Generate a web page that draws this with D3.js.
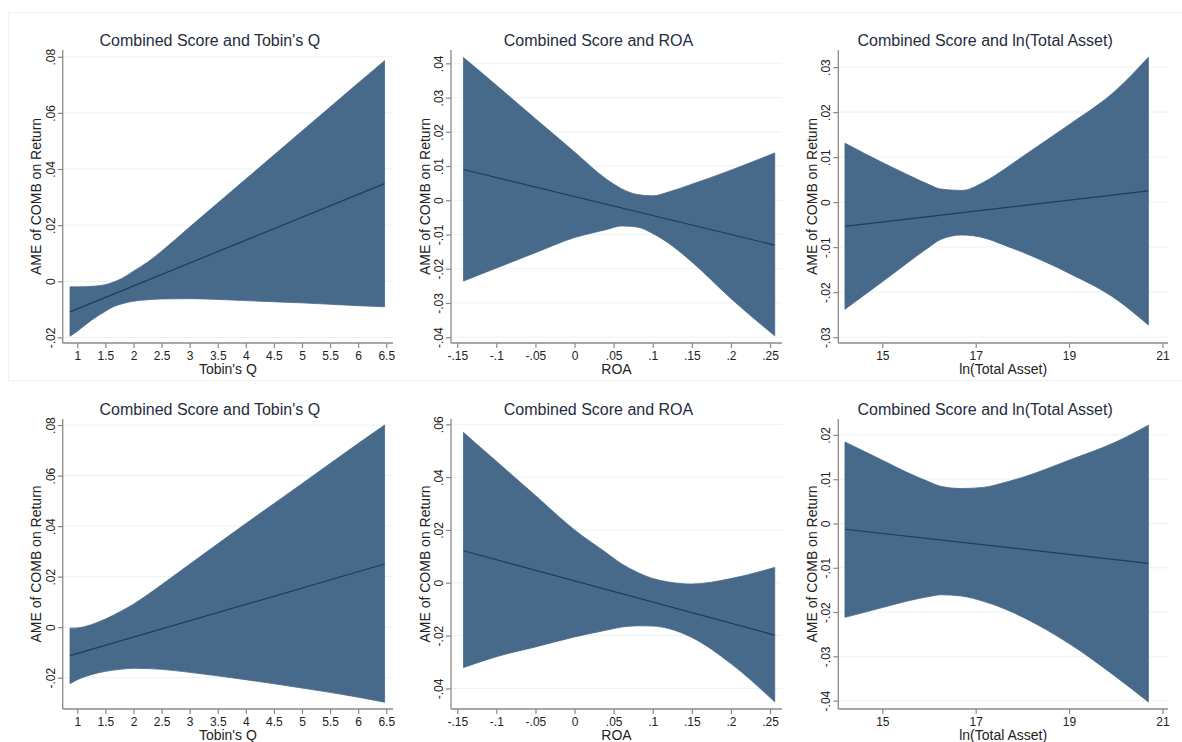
<!DOCTYPE html>
<html>
<head>
<meta charset="utf-8">
<script src="https://cdn.jsdelivr.net/npm/d3@7"></script>
<style>
  html, body { margin: 0; padding: 0; background: #ffffff; }
  svg { display: block; font-family: "Liberation Sans", Arial, sans-serif; }
</style>
</head>
<body>
<svg id="chart" width="1182" height="742"></svg>
<script>
// ---- Average marginal effect of COMB on Return, with confidence bands ----

// Tobin's Q panels
const tqX      = [0.87, 1.0, 1.25, 1.5, 1.65, 1.8, 2.0, 2.25, 2.5, 3.0, 4.0, 5.0, 6.0, 6.47];
const tqUpperA = [-0.0020, -0.0020, -0.0018, -0.0012, -0.0003, 0.0011, 0.0036, 0.0068, 0.0107, 0.0193, 0.0364, 0.0535, 0.0706, 0.0786];
const tqLowerA = [-0.0196, -0.0178, -0.0139, -0.0107, -0.0090, -0.0080, -0.0071, -0.0066, -0.0063, -0.0062, -0.0069, -0.0077, -0.0087, -0.0091];
const tqCenterXA = [0.87, 6.47];
const tqCenterA  = [-0.0109, 0.0348];

const tqUpperB = [-0.0004, -0.0003, 0.0010, 0.0032, 0.0048, 0.0066, 0.0091, 0.0128, 0.0168, 0.0249, 0.0410, 0.0568, 0.0727, 0.0800];
const tqLowerB = [-0.0224, -0.0208, -0.0188, -0.0175, -0.0170, -0.0166, -0.0163, -0.0164, -0.0167, -0.0179, -0.0208, -0.0241, -0.0277, -0.0297];
const tqCenterXB = [0.87, 6.47];
const tqCenterB  = [-0.0113, 0.0250];

// ROA panels
const roaX      = [-0.142, -0.1, -0.05, 0.0, 0.04, 0.06, 0.08, 0.1, 0.12, 0.15, 0.2, 0.256];
const roaUpperA = [0.0417, 0.0336, 0.0238, 0.0141, 0.0063, 0.0034, 0.0017, 0.0013, 0.0024, 0.0047, 0.0088, 0.0138];
const roaLowerA = [-0.0236, -0.0198, -0.0153, -0.0109, -0.0086, -0.0075, -0.0078, -0.0097, -0.0125, -0.0180, -0.0287, -0.0396];
const roaCenterXA = [-0.142, 0.256];
const roaCenterA  = [0.0090, -0.0131];

const roaUpperB = [0.0569, 0.0460, 0.0330, 0.0200, 0.0115, 0.0072, 0.0040, 0.0016, 0.0003, -0.0005, 0.0016, 0.0058];
const roaLowerB = [-0.0321, -0.0280, -0.0243, -0.0205, -0.0180, -0.0168, -0.0163, -0.0164, -0.0173, -0.0207, -0.0306, -0.0451];
const roaCenterXB = [-0.142, 0.256];
const roaCenterB  = [0.0121, -0.0198];

// ln(Total Asset) panels
const taX      = [14.2, 15.0, 15.5, 16.0, 16.25, 16.7, 17.2, 17.6, 18.0, 19.0, 20.0, 20.7];
const taUpperA = [0.0131, 0.0088, 0.0063, 0.0039, 0.0029, 0.0026, 0.0046, 0.0072, 0.0101, 0.0172, 0.0248, 0.0322];
const taLowerA = [-0.0238, -0.0177, -0.0138, -0.0100, -0.0083, -0.0073, -0.0080, -0.0095, -0.0111, -0.0158, -0.0215, -0.0273];
const taCenterXA = [14.2, 20.7];
const taCenterA  = [-0.0054, 0.0025];

const taUpperB = [0.0184, 0.0143, 0.0117, 0.0094, 0.0084, 0.0079, 0.0082, 0.0092, 0.0104, 0.0143, 0.0184, 0.0222];
const taLowerB = [-0.0212, -0.0190, -0.0176, -0.0165, -0.0161, -0.0164, -0.0177, -0.0192, -0.0211, -0.0271, -0.0346, -0.0403];
const taCenterXB = [14.2, 20.7];
const taCenterB  = [-0.0013, -0.0090];

// Axis ticks and labels
const tqTicks  = [1, 1.5, 2, 2.5, 3, 3.5, 4, 4.5, 5, 5.5, 6, 6.5];
const tqTickLabels = ["1", "1.5", "2", "2.5", "3", "3.5", "4", "4.5", "5", "5.5", "6", "6.5"];
const roaTicks = [-0.15, -0.1, -0.05, 0, 0.05, 0.1, 0.15, 0.2, 0.25];
const roaTickLabels = ["-.15", "-.1", "-.05", "0", ".05", ".1", ".15", ".2", ".25"];
const taTicks  = [15, 17, 19, 21];
const taTickLabels = ["15", "17", "19", "21"];

const yTicks1 = [-0.02, 0, 0.02, 0.04, 0.06, 0.08];
const yLabels1 = ["-.02", "0", ".02", ".04", ".06", ".08"];
const yTicks2 = [-0.04, -0.03, -0.02, -0.01, 0, 0.01, 0.02, 0.03, 0.04];
const yLabels2 = ["-.04", "-.03", "-.02", "-.01", "0", ".01", ".02", ".03", ".04"];
const yTicks3 = [-0.03, -0.02, -0.01, 0, 0.01, 0.02, 0.03];
const yLabels3 = ["-.03", "-.02", "-.01", "0", ".01", ".02", ".03"];
const yTicks4 = [-0.02, 0, 0.02, 0.04, 0.06, 0.08];
const yLabels4 = ["-.02", "0", ".02", ".04", ".06", ".08"];
const yTicks5 = [-0.04, -0.02, 0, 0.02, 0.04, 0.06];
const yLabels5 = ["-.04", "-.02", "0", ".02", ".04", ".06"];
const yTicks6 = [-0.04, -0.03, -0.02, -0.01, 0, 0.01, 0.02];
const yLabels6 = ["-.04", "-.03", "-.02", "-.01", "0", ".01", ".02"];

const titles = ["Combined Score and Tobin's Q", "Combined Score and ROA", "Combined Score and ln(Total Asset)"];
const xTitles = ["Tobin's Q", "ROA", "ln(Total Asset)"];
const yTitle = "AME of COMB on Return";

// ---- layout ----
const cols = [
  { x0: 62.7, x1: 393,  domain: [0.74, 6.62] },
  { x0: 451,  x1: 782,  domain: [-0.158, 0.2653] },
  { x0: 838.3, x1: 1168, domain: [14.057, 21.12] }
];
const rows = [
  { y0: 50,  y1: 343 },
  { y0: 419, y1: 709 }
];

const panels = [
  { r: 0, c: 0, xs: tqX,  up: tqUpperA,  lo: tqLowerA,  cx: tqCenterXA,  cy: tqCenterA,  yDom: [-0.0220, 0.0824], yt: yTicks1, yl: yLabels1, xt: tqTicks,  xl: tqTickLabels },
  { r: 0, c: 1, xs: roaX, up: roaUpperA, lo: roaLowerA, cx: roaCenterXA, cy: roaCenterA, yDom: [-0.0417, 0.0439], yt: yTicks2, yl: yLabels2, xt: roaTicks, xl: roaTickLabels },
  { r: 0, c: 2, xs: taX,  up: taUpperA,  lo: taLowerA,  cx: taCenterXA,  cy: taCenterA,  yDom: [-0.0313, 0.0338], yt: yTicks3, yl: yLabels3, xt: taTicks,  xl: taTickLabels },
  { r: 1, c: 0, xs: tqX,  up: tqUpperB,  lo: tqLowerB,  cx: tqCenterXB,  cy: tqCenterB,  yDom: [-0.0324, 0.0824], yt: yTicks4, yl: yLabels4, xt: tqTicks,  xl: tqTickLabels },
  { r: 1, c: 1, xs: roaX, up: roaUpperB, lo: roaLowerB, cx: roaCenterXB, cy: roaCenterB, yDom: [-0.0478, 0.0620], yt: yTicks5, yl: yLabels5, xt: roaTicks, xl: roaTickLabels },
  { r: 1, c: 2, xs: taX,  up: taUpperB,  lo: taLowerB,  cx: taCenterXB,  cy: taCenterB,  yDom: [-0.0419, 0.0236], yt: yTicks6, yl: yLabels6, xt: taTicks,  xl: taTickLabels }
];

const svg = d3.select("#chart");

// faint outer frame of the graph region
svg.append("rect")
  .attr("x", 8.5).attr("y", 12.5).attr("width", 1180).attr("height", 368)
  .attr("fill", "none").attr("stroke", "#f2f2f2").attr("stroke-width", 1);

const bandColor = "#47698a";
const lineColor = "#1f3c5c";
const axisColor = "#8a8a8a";
const gridColor = "#eaf2f3";
const textColor = "#222222";
const titleColor = "#1f2d40";

panels.forEach(p => {
  const col = cols[p.c], row = rows[p.r];
  const x = d3.scaleLinear().domain(col.domain).range([col.x0, col.x1]);
  const y = d3.scaleLinear().domain(p.yDom).range([row.y1, row.y0]);
  const g = svg.append("g");

  // horizontal grid lines
  g.selectAll("line.grid").data(p.yt).enter().append("line")
    .attr("x1", col.x0).attr("x2", col.x1)
    .attr("y1", d => y(d)).attr("y2", d => y(d))
    .attr("stroke", gridColor).attr("stroke-width", 1);

  // confidence band
  const pts = p.xs.map((v, i) => ({ x: v, up: p.up[i], lo: p.lo[i] }));
  const area = d3.area()
    .x(d => x(d.x)).y0(d => y(d.lo)).y1(d => y(d.up))
    .curve(d3.curveMonotoneX);
  g.append("path").datum(pts)
    .attr("d", area)
    .attr("fill", bandColor)
    .attr("stroke", bandColor).attr("stroke-width", 0.8);

  // point estimate
  const cpts = p.cx.map((v, i) => ({ x: v, y: p.cy[i] }));
  g.append("path").datum(cpts)
    .attr("d", d3.line().x(d => x(d.x)).y(d => y(d.y)))
    .attr("fill", "none").attr("stroke", lineColor).attr("stroke-width", 1.2);

  // y axis (labels rotated, reading bottom to top)
  const yAxis = d3.axisLeft(y).tickValues(p.yt).tickSize(5).tickPadding(3)
    .tickFormat((d, i) => p.yl[i]);
  const ya = g.append("g").attr("transform", `translate(${col.x0},0)`).call(yAxis);
  ya.select(".domain").attr("d", `M0,${row.y0}V${row.y1}`).attr("stroke", axisColor).attr("stroke-width", 1.3);
  ya.selectAll(".tick line").attr("stroke", axisColor).attr("stroke-width", 1.2);
  ya.selectAll(".tick text")
    .attr("x", null).attr("dy", null)
    .attr("transform", "translate(-8,0) rotate(-90)")
    .attr("text-anchor", "middle")
    .attr("fill", textColor)
    .style("font-size", "12px")
    .style("font-family", "'Liberation Sans', Arial, sans-serif");

  // x axis
  const xAxis = d3.axisBottom(x).tickValues(p.xt).tickSize(5).tickPadding(3)
    .tickFormat((d, i) => p.xl[i]);
  const xa = g.append("g").attr("transform", `translate(0,${row.y1})`).call(xAxis);
  xa.select(".domain").attr("d", `M${col.x0},0H${col.x1}`).attr("stroke", axisColor).attr("stroke-width", 1.3);
  xa.selectAll(".tick line").attr("stroke", axisColor).attr("stroke-width", 1.2);
  xa.selectAll(".tick text")
    .attr("y", 17).attr("dy", null)
    .attr("fill", textColor)
    .style("font-size", "12px")
    .style("font-family", "'Liberation Sans', Arial, sans-serif");

  // axis titles
  g.append("text")
    .attr("x", (col.x0 + col.x1) / 2).attr("y", row.y1 + 30.5)
    .attr("text-anchor", "middle").attr("fill", textColor)
    .style("font-size", "14px")
    .text(xTitles[p.c]);
  g.append("text")
    .attr("transform", `translate(${col.x0 - 21.3},${(row.y0 + row.y1) / 2}) rotate(-90)`)
    .attr("text-anchor", "middle").attr("fill", textColor)
    .style("font-size", "14px")
    .text(yTitle);

  // panel title
  g.append("text")
    .attr("x", (col.x0 + col.x1) / 2 - 18).attr("y", row.y0 - 4.5)
    .attr("text-anchor", "middle").attr("fill", titleColor)
    .style("font-size", "16px")
    .text(titles[p.c]);
});
</script>
</body>
</html>
